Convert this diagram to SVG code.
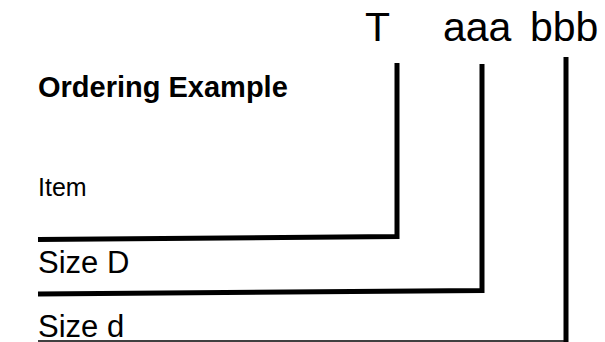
<svg xmlns="http://www.w3.org/2000/svg" width="605" height="342" viewBox="0 0 605 342">
<style>
text{font-family:"Liberation Sans",Arial,sans-serif;fill:#000}
.big{font-size:41px}
.lbl{font-size:31px}
.thick{fill:none;stroke:#000;stroke-width:5}
</style>
<rect width="605" height="342" fill="#fff"/>
<g id="title"><text x="38" y="97" style="font-size:29px;font-weight:bold">Ordering Example</text></g>
<g id="code-T"><text class="big" x="365" y="41">T</text></g>
<g id="code-aaa"><text class="big" x="443" y="41">aaa</text></g>
<g id="code-bbb"><text class="big" x="530" y="41">bbb</text></g>
<g id="label-item"><text x="38" y="196" style="font-size:25px">Item</text></g>
<g id="label-sizeD"><text class="lbl" x="38" y="273">Size D</text></g>
<g id="label-sized"><text class="lbl" x="38" y="337">Size d</text></g>
<g id="connectors">
<path class="thick" d="M38,239.5 L397,236.5 L397,63"/>
<path class="thick" d="M38,294 L482,290.5 L482,64"/>
<path class="thick" d="M566,57 L566,342"/>
<path d="M38,341 L566,341" stroke="#000" stroke-width="1.5" fill="none"/>
</g>
</svg>
